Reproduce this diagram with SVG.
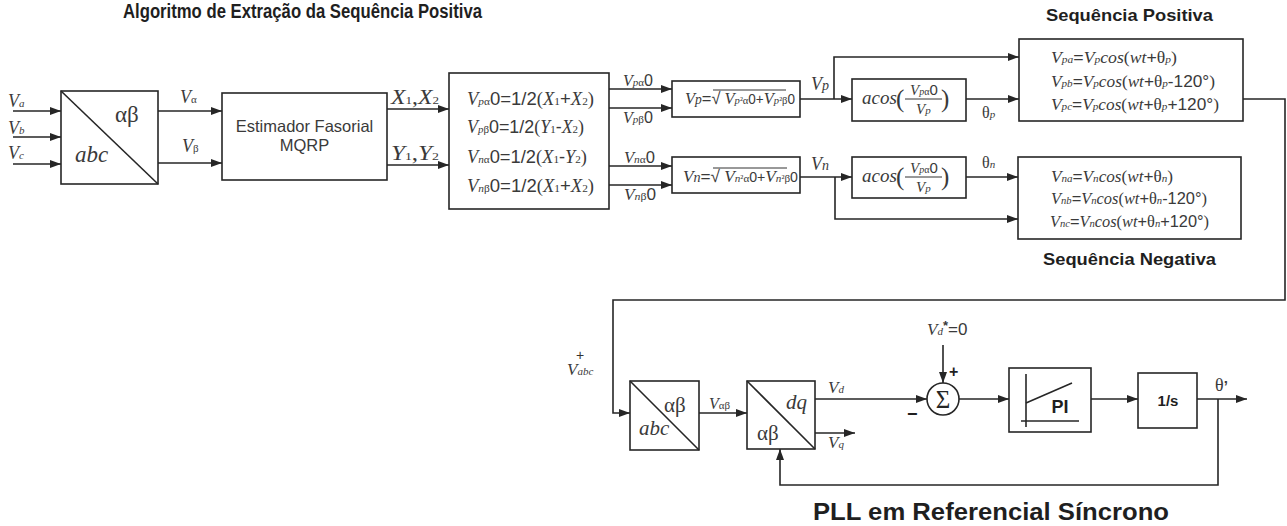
<svg xmlns="http://www.w3.org/2000/svg" width="1287" height="526" viewBox="0 0 1287 526">
<defs>
<style>
.bx{fill:none;stroke:#262626;stroke-width:1.6}
.c{fill:none;stroke:#262626;stroke-width:1.6}
.a{marker-end:url(#ah)}
.t{font-family:"Liberation Serif","Times New Roman",serif;font-size:18px;fill:#3a3a3a}
.e{font-size:17px}
.i{font-style:italic}
.s{font-family:"Liberation Sans",Arial,sans-serif}
.sb{font-size:11px}
.h{font-family:"Liberation Sans",Arial,sans-serif;font-weight:bold;fill:#1f1f1f}
.f{stroke:#333;stroke-width:1}
</style>
<marker id="ah" markerWidth="11" markerHeight="8" refX="11" refY="4" orient="auto" markerUnits="userSpaceOnUse"><path d="M0,0L11,4L0,8z" fill="#262626"/></marker>
</defs>
<rect width="1287" height="526" fill="#fff"/>

<g id="titles">
<text class="h" x="123" y="18" style="font-size:20px" textLength="359" lengthAdjust="spacingAndGlyphs">Algoritmo de Extração da Sequência Positiva</text>
<text class="h" x="1046" y="21" style="font-size:17px" textLength="167" lengthAdjust="spacingAndGlyphs">Sequência Positiva</text>
<text class="h" x="1043" y="265" style="font-size:17px" textLength="173" lengthAdjust="spacingAndGlyphs">Sequência Negativa</text>
<text class="h" x="813" y="520" style="font-size:24px" textLength="356" lengthAdjust="spacingAndGlyphs">PLL em Referencial Síncrono</text>
</g>

<g id="connectors">
<path class="c a" d="M13,111H61"/>
<path class="c a" d="M13,137H61"/>
<path class="c a" d="M13,164H61"/>
<path class="c a" d="M158,111H222"/>
<path class="c a" d="M158,163H222"/>
<path class="c a" d="M387,109H449"/>
<path class="c a" d="M387,165H449"/>
<path class="c a" d="M609,89H672"/>
<path class="c a" d="M609,108H672"/>
<path class="c a" d="M609,166H672"/>
<path class="c a" d="M609,185H672"/>
<path class="c a" d="M800,99H852"/>
<path class="c a" d="M834,99V57H1019"/>
<path class="c a" d="M966,99H1019"/>
<path class="c a" d="M800,177H852"/>
<path class="c a" d="M835,177V219H1018"/>
<path class="c a" d="M966,177H1018"/>
<path class="c a" d="M1243,99H1285V300H613V413H630"/>
<path class="c a" d="M699,413H747"/>
<path class="c a" d="M815,399H927"/>
<path class="c a" d="M815,433H855"/>
<path class="c a" d="M943,345V383"/>
<path class="c a" d="M959,399H1009"/>
<path class="c a" d="M1091,399H1138"/>
<path class="c a" d="M1197,399H1247"/>
<path class="c a" d="M1218,399V485H780V449"/>
</g>

<g id="labels">
<text class="t" x="8" y="107"><tspan class="i">V</tspan><tspan class="i sb">a</tspan></text>
<text class="t" x="8" y="134"><tspan class="i">V</tspan><tspan class="i sb">b</tspan></text>
<text class="t" x="8" y="159"><tspan class="i">V</tspan><tspan class="i sb">c</tspan></text>
<text class="t" x="180" y="103"><tspan class="i">V</tspan><tspan class="sb">α</tspan></text>
<text class="t" x="182" y="152"><tspan class="i">V</tspan><tspan class="sb">β</tspan></text>
<text class="t" x="391" y="104" style="font-size:20px" textLength="48" lengthAdjust="spacingAndGlyphs"><tspan class="i">X</tspan><tspan class="sb">1</tspan>,<tspan class="i">X</tspan><tspan class="sb">2</tspan></text>
<text class="t" x="391" y="160" style="font-size:20px" textLength="48" lengthAdjust="spacingAndGlyphs"><tspan class="i">Y</tspan><tspan class="sb">1</tspan>,<tspan class="i">Y</tspan><tspan class="sb">2</tspan></text>
<text class="t" x="623" y="86" style="font-size:16px" textLength="30" lengthAdjust="spacingAndGlyphs"><tspan class="i">V</tspan><tspan class="i sb">p</tspan><tspan class="sb">α</tspan><tspan class="s">0</tspan></text>
<text class="t" x="623" y="123" style="font-size:16px" textLength="30" lengthAdjust="spacingAndGlyphs"><tspan class="i">V</tspan><tspan class="i sb">p</tspan><tspan class="sb">β</tspan><tspan class="s">0</tspan></text>
<text class="t" x="624" y="163" style="font-size:16px" textLength="31" lengthAdjust="spacingAndGlyphs"><tspan class="i">V</tspan><tspan class="i sb">n</tspan><tspan class="sb">α</tspan><tspan class="s">0</tspan></text>
<text class="t" x="624" y="200" style="font-size:16px" textLength="32" lengthAdjust="spacingAndGlyphs"><tspan class="i">V</tspan><tspan class="i sb">n</tspan><tspan class="sb">β</tspan><tspan class="s">0</tspan></text>
<text class="t i" x="811" y="90">V<tspan style="font-size:14px">p</tspan></text>
<text class="t i" x="811" y="170">V<tspan style="font-size:14px">n</tspan></text>
<text class="t" x="982" y="118" style="font-size:16px">θ<tspan class="i sb">p</tspan></text>
<text class="t" x="982" y="168" style="font-size:16px">θ<tspan class="i sb">n</tspan></text>
<text class="h" x="580" y="360" text-anchor="middle" style="font-size:14px;font-weight:normal;fill:#333">+</text>
<text class="t" x="567" y="375" style="font-size:17px"><tspan class="i">V</tspan><tspan class="i sb">abc</tspan></text>
<text class="t" x="709" y="409" style="font-size:16px"><tspan class="i">V</tspan><tspan class="sb">αβ</tspan></text>
<text class="t" x="828" y="393" style="font-size:17px"><tspan class="i">V</tspan><tspan class="i sb">d</tspan></text>
<text class="t" x="828" y="448" style="font-size:17px"><tspan class="i">V</tspan><tspan class="i sb">q</tspan></text>
<text class="t" x="927" y="335" style="font-size:17px"><tspan class="i">V</tspan><tspan class="i sb">d</tspan><tspan class="s" style="font-size:13px;font-weight:bold" dy="-5">*</tspan><tspan class="s" dy="5">=0</tspan></text>
<text class="h" x="949" y="377" style="font-size:16px">+</text>
<text class="h" x="907" y="420" style="font-size:18px">−</text>
<text class="t" x="1215" y="391" style="font-size:18px">θ<tspan class="s" style="font-weight:bold;font-size:15px">’</tspan></text>
</g>

<g id="abc-ab">
<rect class="bx" x="61" y="91" width="97" height="93"/>
<line class="c" x1="61" y1="91" x2="158" y2="184"/>
<text class="t" x="115" y="122" style="font-size:23px">αβ</text>
<text class="t i" x="75" y="162" style="font-size:23px">abc</text>
</g>

<g id="estimador">
<rect class="bx" x="222" y="93" width="165" height="87"/>
<text class="t s" x="304.5" y="132" text-anchor="middle" style="font-size:16.5px">Estimador Fasorial</text>
<text class="t s" x="304.5" y="151" text-anchor="middle" style="font-size:16.5px">MQRP</text>
</g>

<g id="componentes">
<rect class="bx" x="449" y="73" width="160" height="136"/>
<text class="t" x="467" y="105" textLength="127" lengthAdjust="spacingAndGlyphs"><tspan class="i">V</tspan><tspan class="i sb">p</tspan><tspan class="sb">α</tspan><tspan class="s">0=1/2</tspan>(<tspan class="i">X</tspan><tspan class="sb">1</tspan><tspan class="s">+</tspan><tspan class="i">X</tspan><tspan class="sb">2</tspan>)</text>
<text class="t" x="467" y="133" textLength="117" lengthAdjust="spacingAndGlyphs"><tspan class="i">V</tspan><tspan class="i sb">p</tspan><tspan class="sb">β</tspan><tspan class="s">0=1/2</tspan>(<tspan class="i">Y</tspan><tspan class="sb">1</tspan><tspan class="s">-</tspan><tspan class="i">X</tspan><tspan class="sb">2</tspan>)</text>
<text class="t" x="467" y="163" textLength="120" lengthAdjust="spacingAndGlyphs"><tspan class="i">V</tspan><tspan class="i sb">n</tspan><tspan class="sb">α</tspan><tspan class="s">0=1/2</tspan>(<tspan class="i">X</tspan><tspan class="sb">1</tspan><tspan class="s">-</tspan><tspan class="i">Y</tspan><tspan class="sb">2</tspan>)</text>
<text class="t" x="467" y="192" textLength="127" lengthAdjust="spacingAndGlyphs"><tspan class="i">V</tspan><tspan class="i sb">n</tspan><tspan class="sb">β</tspan><tspan class="s">0=1/2</tspan>(<tspan class="i">X</tspan><tspan class="sb">1</tspan><tspan class="s">+</tspan><tspan class="i">X</tspan><tspan class="sb">2</tspan>)</text>
</g>

<g id="modulo-p">
<rect class="bx" x="672" y="81" width="128" height="36"/>
<text class="t" x="685" y="104" style="font-size:17px" textLength="110" lengthAdjust="spacingAndGlyphs"><tspan class="i">V</tspan><tspan class="i" style="font-size:14px">p</tspan><tspan class="s">=√</tspan><tspan class="i"> V</tspan><tspan class="i sb">p</tspan><tspan style="font-size:10px">²</tspan><tspan class="sb">α</tspan><tspan class="s" style="font-size:14px">0+</tspan><tspan class="i">V</tspan><tspan class="i sb">p</tspan><tspan style="font-size:10px">²</tspan><tspan class="sb">β</tspan><tspan class="s" style="font-size:14px">0</tspan></text>
<line class="f" x1="713" y1="90" x2="786" y2="90"/>
</g>

<g id="modulo-n">
<rect class="bx" x="672" y="157" width="128" height="36"/>
<text class="t" x="683" y="182" style="font-size:17px" textLength="115" lengthAdjust="spacingAndGlyphs"><tspan class="i">V</tspan><tspan class="i" style="font-size:14px">n</tspan><tspan class="s">=√</tspan><tspan class="i"> V</tspan><tspan class="i sb">n</tspan><tspan style="font-size:10px">²</tspan><tspan class="sb">α</tspan><tspan class="s" style="font-size:14px">0+</tspan><tspan class="i">V</tspan><tspan class="i sb">n</tspan><tspan style="font-size:10px">²</tspan><tspan class="sb">β</tspan><tspan class="s" style="font-size:14px">0</tspan></text>
<line class="f" x1="713" y1="168" x2="787" y2="168"/>
</g>

<g id="acos-p">
<rect class="bx" x="852" y="79" width="114" height="42"/>
<text class="t i" x="862" y="104" style="font-size:19px">acos</text>
<text class="t" x="896" y="107" style="font-size:25px">(</text>
<text class="t" x="910" y="95" style="font-size:15px"><tspan class="i">V</tspan><tspan class="i" style="font-size:10px">p</tspan><tspan style="font-size:10px">α</tspan><tspan class="s">0</tspan></text>
<line class="f" x1="905" y1="99" x2="942" y2="99"/>
<text class="t i" x="916" y="114" style="font-size:15px">V<tspan style="font-size:11px">p</tspan></text>
<text class="t" x="941" y="107" style="font-size:25px">)</text>
</g>

<g id="acos-n">
<rect class="bx" x="852" y="157" width="114" height="41"/>
<text class="t i" x="862" y="182" style="font-size:19px">acos</text>
<text class="t" x="896" y="185" style="font-size:25px">(</text>
<text class="t" x="910" y="173" style="font-size:15px"><tspan class="i">V</tspan><tspan class="i" style="font-size:10px">p</tspan><tspan style="font-size:10px">α</tspan><tspan class="s">0</tspan></text>
<line class="f" x1="905" y1="177" x2="942" y2="177"/>
<text class="t i" x="916" y="192" style="font-size:15px">V<tspan style="font-size:11px">p</tspan></text>
<text class="t" x="941" y="185" style="font-size:25px">)</text>
</g>

<g id="seq-positiva">
<rect class="bx" x="1019" y="39" width="224" height="82"/>
<text class="t e" x="1051" y="63" textLength="126" lengthAdjust="spacingAndGlyphs"><tspan class="i">V</tspan><tspan class="i sb">pa</tspan><tspan class="s">=</tspan><tspan class="i">V</tspan><tspan class="i sb">p</tspan><tspan class="i">cos</tspan>(<tspan class="i">wt</tspan><tspan class="s">+</tspan>θ<tspan class="i sb">p</tspan>)</text>
<text class="t e" x="1051" y="87" textLength="164" lengthAdjust="spacingAndGlyphs"><tspan class="i">V</tspan><tspan class="i sb">pb</tspan><tspan class="s">=</tspan><tspan class="i">V</tspan><tspan class="i sb">p</tspan><tspan class="i">cos</tspan>(<tspan class="i">wt</tspan><tspan class="s">+</tspan>θ<tspan class="i sb">p</tspan><tspan class="s">-120°</tspan>)</text>
<text class="t e" x="1051" y="110" textLength="168" lengthAdjust="spacingAndGlyphs"><tspan class="i">V</tspan><tspan class="i sb">pc</tspan><tspan class="s">=</tspan><tspan class="i">V</tspan><tspan class="i sb">p</tspan><tspan class="i">cos</tspan>(<tspan class="i">wt</tspan><tspan class="s">+</tspan>θ<tspan class="i sb">p</tspan><tspan class="s">+120°</tspan>)</text>
</g>

<g id="seq-negativa">
<rect class="bx" x="1018" y="157" width="223" height="82"/>
<text class="t e" x="1051" y="182" textLength="122" lengthAdjust="spacingAndGlyphs"><tspan class="i">V</tspan><tspan class="i sb">na</tspan><tspan class="s">=</tspan><tspan class="i">V</tspan><tspan class="i sb">n</tspan><tspan class="i">cos</tspan>(<tspan class="i">wt</tspan><tspan class="s">+</tspan>θ<tspan class="i sb">n</tspan>)</text>
<text class="t e" x="1051" y="204" textLength="156" lengthAdjust="spacingAndGlyphs"><tspan class="i">V</tspan><tspan class="i sb">nb</tspan><tspan class="s">=</tspan><tspan class="i">V</tspan><tspan class="i sb">n</tspan><tspan class="i">cos</tspan>(<tspan class="i">wt</tspan><tspan class="s">+</tspan>θ<tspan class="i sb">n</tspan><tspan class="s">-120°</tspan>)</text>
<text class="t e" x="1050" y="227" textLength="159" lengthAdjust="spacingAndGlyphs"><tspan class="i">V</tspan><tspan class="i sb">nc</tspan><tspan class="s">=</tspan><tspan class="i">V</tspan><tspan class="i sb">n</tspan><tspan class="i">cos</tspan>(<tspan class="i">wt</tspan><tspan class="s">+</tspan>θ<tspan class="i sb">n</tspan><tspan class="s">+120°</tspan>)</text>
</g>

<g id="pll-abc-ab">
<rect class="bx" x="630" y="381" width="69" height="69"/>
<line class="c" x1="630" y1="381" x2="699" y2="450"/>
<text class="t" x="664" y="412" style="font-size:21px">αβ</text>
<text class="t i" x="639" y="435" style="font-size:21px">abc</text>
</g>

<g id="pll-ab-dq">
<rect class="bx" x="747" y="381" width="68" height="68"/>
<line class="c" x1="747" y1="381" x2="815" y2="449"/>
<text class="t i" x="786" y="409" style="font-size:21px">dq</text>
<text class="t" x="757" y="440" style="font-size:21px">αβ</text>
</g>

<g id="somador">
<circle class="bx" cx="943" cy="399" r="16"/>
<text class="t" x="943" y="408" text-anchor="middle" style="font-size:25px;fill:#262626">Σ</text>
</g>

<g id="pi">
<rect class="bx" x="1009" y="368" width="82" height="64"/>
<line class="c" x1="1026" y1="374" x2="1026" y2="427"/>
<line class="c" x1="1021" y1="421" x2="1079" y2="421"/>
<line class="c" x1="1026" y1="403" x2="1072" y2="383"/>
<text class="h" x="1060" y="413" text-anchor="middle" style="font-size:18px">PI</text>
</g>

<g id="integrador">
<rect class="bx" x="1138" y="373" width="59" height="55"/>
<text class="h" x="1168" y="406" text-anchor="middle" style="font-size:15px">1/s</text>
</g>
</svg>
